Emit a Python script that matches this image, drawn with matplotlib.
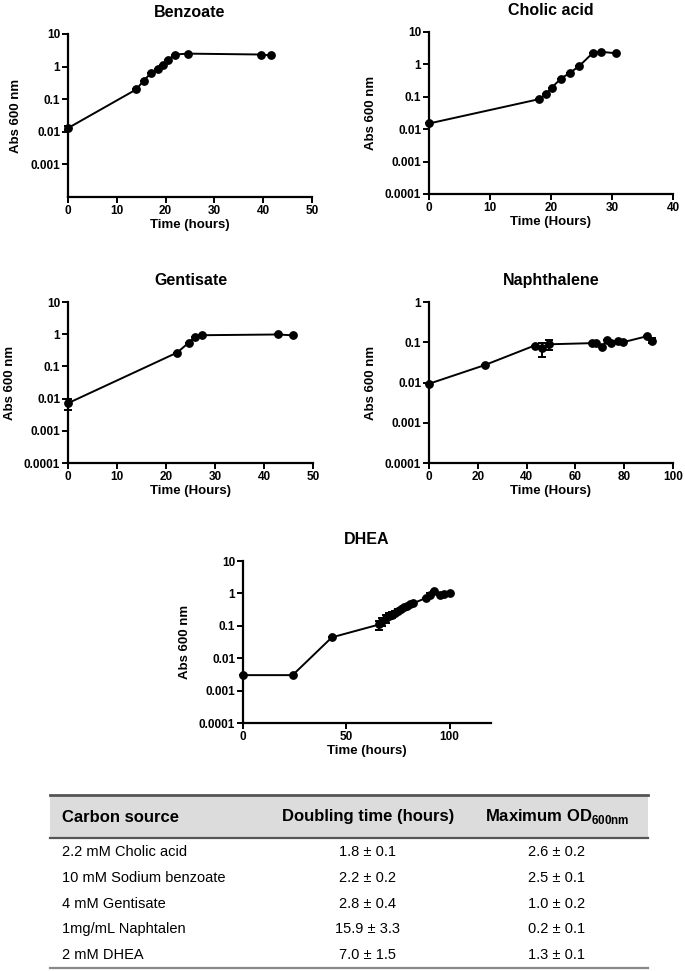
import numpy as np
import matplotlib
matplotlib.use("Agg")
import matplotlib.pyplot as plt
from matplotlib.ticker import FixedLocator, NullLocator

plt.rcParams['font.family'] = ['Liberation Sans', 'DejaVu Sans']

W, H = 685, 971

# --- growth curve data ---
benz_t = [0, 14, 15.5, 17, 18.5, 19.5, 20.5, 22, 24.5, 39.5, 41.5]
benz_od = [0.013, 0.2, 0.37, 0.63, 0.82, 1.15, 1.65, 2.35, 2.5, 2.35, 2.2]
benz_err = [0.002, 0, 0, 0, 0, 0, 0, 0, 0, 0, 0]

chol_t = [0, 18.1, 19.1, 20.1, 21.6, 23.1, 24.6, 26.9, 28.2, 30.7]
chol_od = [0.015, 0.085, 0.12, 0.19, 0.36, 0.55, 0.88, 2.3, 2.45, 2.2]
chol_err = [0, 0, 0, 0, 0, 0, 0, 0, 0, 0]

gent_t = [0, 22.3, 24.6, 25.9, 27.4, 42.9, 45.9]
gent_od = [0.0072, 0.27, 0.54, 0.83, 0.93, 0.98, 0.92]
gent_err = [0.0027, 0, 0, 0, 0, 0, 0]

naph_t = [0, 22.8, 43.3, 46.4, 49.2, 66.8, 68.6, 70.9, 73.0, 74.7, 77.5, 79.5, 89.5, 91.5]
naph_od = [0.0093, 0.027, 0.083, 0.07, 0.089, 0.095, 0.095, 0.075, 0.115, 0.095, 0.107, 0.1, 0.142, 0.11]
naph_err = [0, 0, 0, 0.027, 0.025, 0, 0, 0, 0, 0, 0, 0, 0, 0.015]

dhea_t = [0, 24, 43, 66, 67.5, 69, 70.5, 72, 73.5, 75, 76.5, 78, 79.5, 81, 82.5,
          88.5, 90.5, 92.5, 95.5, 97.5, 100]
dhea_od = [0.003, 0.003, 0.044, 0.11, 0.14, 0.17, 0.2, 0.22, 0.25, 0.28, 0.33,
           0.38, 0.42, 0.46, 0.5, 0.72, 0.92, 1.15, 0.92, 0.96, 1.02]
dhea_err = [0, 0, 0, 0.035, 0.04, 0.045, 0.04, 0.05, 0.04, 0.04, 0.03,
            0.02, 0, 0, 0, 0, 0.1, 0, 0, 0, 0]

# --- table data ---
col_headers = ["Carbon source", "Doubling time (hours)", "Maximum OD$_{\\mathregular{600nm}}$"]
sources = ["2.2 mM Cholic acid", "10 mM Sodium benzoate", "4 mM Gentisate",
           "1mg/mL Naphtalen", "2 mM DHEA"]
doubling = ["1.8 ± 0.1", "2.2 ± 0.2", "2.8 ± 0.4", "15.9 ± 3.3", "7.0 ± 1.5"]
max_od = ["2.6 ± 0.2", "2.5 ± 0.1", "1.0 ± 0.2", "0.2 ± 0.1", "1.3 ± 0.1"]


def px_axes(fig, left, top, right, bottom):
    return fig.add_axes([left / W, 1 - bottom / H, (right - left) / W, (bottom - top) / H])


def growth_panel(ax, t, od, err, title, xlabel, xlim, xticks, ytop, yticks):
    ax.errorbar(t, od, yerr=err, color='black', marker='o', markersize=5.3,
                linewidth=1.4, elinewidth=1.4, capsize=3, capthick=1.4, clip_on=False)
    ax.set_yscale('log')
    ax.set_ylim(1e-4, ytop)
    ax.set_xlim(*xlim)
    ax.yaxis.set_major_locator(FixedLocator(yticks))
    ax.yaxis.set_minor_locator(NullLocator())
    ax.set_yticklabels([('%g' % v) if v >= 0.001 else '0.0001' for v in yticks])
    ax.set_xticks(xticks)
    for s in ['top', 'right']:
        ax.spines[s].set_visible(False)
    for s in ['left', 'bottom']:
        ax.spines[s].set_linewidth(1.6)
    ax.tick_params(direction='out', length=4, width=1.4, labelsize=8.5, pad=1.5)
    for lab in ax.get_xticklabels() + ax.get_yticklabels():
        lab.set_fontweight('bold')
    ax.set_title(title, fontsize=11.5, fontweight='bold', pad=12)
    ax.set_xlabel(xlabel, fontsize=9.5, fontweight='bold', labelpad=2)
    ax.set_ylabel('Abs 600 nm', fontsize=9.5, fontweight='bold', labelpad=6)
    ax.patch.set_visible(False)


fig = plt.figure(figsize=(W / 100, H / 100), dpi=100)

ax1 = px_axes(fig, 68, 34, 312, 197)
growth_panel(ax1, benz_t, benz_od, benz_err, 'Benzoate', 'Time (hours)', (0, 50),
             [0, 10, 20, 30, 40, 50], 10, [0.001, 0.01, 0.1, 1, 10])

ax2 = px_axes(fig, 429, 32, 673, 194)
growth_panel(ax2, chol_t, chol_od, chol_err, 'Cholic acid', 'Time (Hours)', (0, 40),
             [0, 10, 20, 30, 40], 10, [0.0001, 0.001, 0.01, 0.1, 1, 10])

ax3 = px_axes(fig, 68, 302, 313, 463)
growth_panel(ax3, gent_t, gent_od, gent_err, 'Gentisate', 'Time (Hours)', (0, 50),
             [0, 10, 20, 30, 40, 50], 10, [0.0001, 0.001, 0.01, 0.1, 1, 10])

ax4 = px_axes(fig, 429, 302, 673, 463)
growth_panel(ax4, naph_t, naph_od, naph_err, 'Naphthalene', 'Time (Hours)', (0, 100),
             [0, 20, 40, 60, 80, 100], 1, [0.0001, 0.001, 0.01, 0.1, 1])

ax5 = px_axes(fig, 243, 561, 491, 723)
growth_panel(ax5, dhea_t, dhea_od, dhea_err, 'DHEA', 'Time (hours)', (0, 120),
             [0, 50, 100], 10, [0.0001, 0.001, 0.01, 0.1, 1, 10])

# --- table drawn in pixel coordinates ---
tab = fig.add_axes([0, 0, 1, 1])
tab.set_xlim(0, W)
tab.set_ylim(H, 0)
tab.axis('off')

t_left, t_right = 50, 648
t_top, t_head, t_bottom = 795, 838, 968
tab.fill_between([t_left, t_right], t_top, t_head, color='#dcdcdc', lw=0)
tab.plot([t_left, t_right], [t_top, t_top], color='#555555', lw=2)
tab.plot([t_left, t_right], [t_head, t_head], color='#555555', lw=1.6)
tab.plot([t_left, t_right], [t_bottom, t_bottom], color='#888888', lw=1.6)

head_y = 817
tab.text(62, head_y, col_headers[0], fontsize=12, fontweight='bold', va='center', ha='left')
tab.text(368, head_y, col_headers[1], fontsize=12, fontweight='bold', va='center', ha='center')
tab.text(557, head_y, col_headers[2], fontsize=12, fontweight='bold', va='center', ha='center')

row_y0, row_dy = 852, 25.8
for i in range(len(sources)):
    y = row_y0 + i * row_dy
    tab.text(62, y, sources[i], fontsize=10.5, va='center', ha='left')
    tab.text(368, y, doubling[i], fontsize=10.5, va='center', ha='center')
    tab.text(557, y, max_od[i], fontsize=10.5, va='center', ha='center')

fig.savefig('out.png', dpi=100)
